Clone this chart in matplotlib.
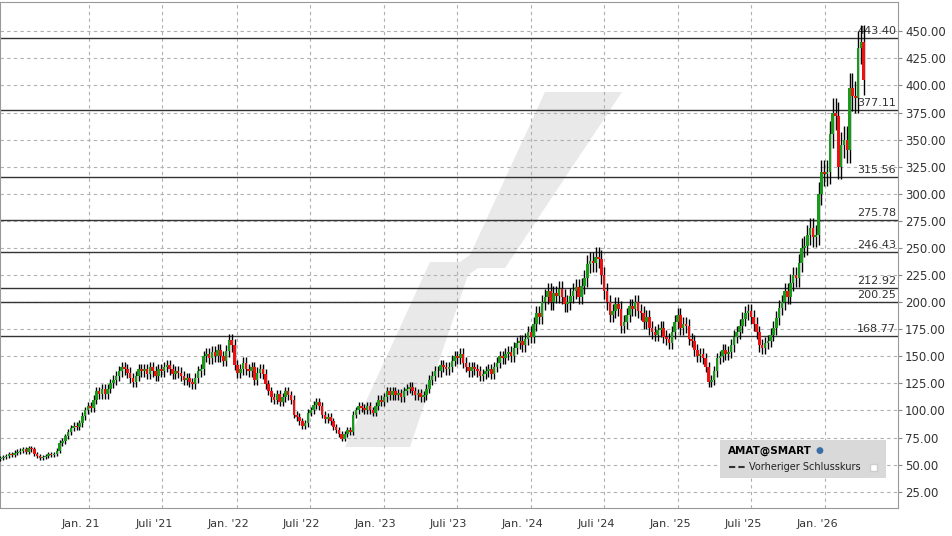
import matplotlib
matplotlib.use("Agg")
import matplotlib.pyplot as plt
import numpy as np
import pandas as pd
from matplotlib.patches import Polygon, Rectangle
from matplotlib.lines import Line2D

closes = [56,57,58, 60,59,61,62, 63,64,62,65,64, 60,58,56,57, 58,60,59,60, 63,70,72,76,80, 84,86,85,88,
 95,100,104,102, 110,118,115,120, 115,120,125,128,132, 136,140,138,135, 130,126,132,138,136, 138,134,140,136,
 132,138,136,140, 142,138,134,136,135, 132,128,130,126, 124,130,136,138, 150,152,148,154,150, 156,150,146,155,
 165,160,142,135,138, 144,138,136,140, 128,135,138,134, 124,118,112,110, 115,108,112,118,114, 110,96,94,90,
 86,88,98,100, 105,108,104,96,92, 94,90,85,82, 78,74,78,82,80, 96,100,104,102, 100,104,100,98,
 104,110,108,112,118, 114,118,114,116, 112,118,120,122, 118,114,116,112, 114,120,128,132,136, 136,142,140,138,
 140,146,150,148,152, 144,140,136,140, 138,136,132,134, 136,138,134,140,144, 150,148,152,154, 150,158,162,164,
 160,166,172,168,180, 190,186,200,205, 210,200,208,206, 212,205,198,200,206, 210,214,205,215, 222,235,238,236,
 242,240,225,210,200, 188,192,198,194, 178,182,188,196,194, 200,192,190,182, 186,176,172,170, 174,176,168,166,162,
 172,182,188,176, 180,178,166,164, 156,150,152,148,140, 126,128,136,148, 150,156,152,154, 160,168,172,178,184,
 190,192,186,180, 172,160,158,162, 164,170,176,185,195, 200,210,205,218,
 225,222,236,250,252, 262,268,260,262, 300,320,318,320, 355,375,372,325, 345,350,340,398, 390,388,435,440,405]
first_open = 55
levels = [443.40, 377.11, 315.56, 275.78, 246.43, 212.92, 200.25, 168.77]
yticks = list(range(25, 451, 25))
xtick_dates = ["2021-01-01","2021-07-01","2022-01-01","2022-07-01","2023-01-01","2023-07-01",
               "2024-01-01","2024-07-01","2025-01-01","2025-07-01","2026-01-01"]
xtick_labels = ["Jan. 21","Juli '21","Jan. '22","Juli '22","Jan. '23","Juli '23",
                "Jan. '24","Juli '24","Jan. '25","Juli '25","Jan. '26"]

dates = pd.date_range("2020-05-25", periods=len(closes), freq="7D")
x = dates.map(lambda d: d.toordinal()).values.astype(float)
opens = [first_open] + closes[:-1]

fig = plt.figure(figsize=(9.53, 5.36), dpi=100)
ax = fig.add_axes([0.0, 28/536, 898/953, 506/536])
x0 = pd.Timestamp("2020-05-24").toordinal()
x1 = pd.Timestamp("2026-06-30").toordinal()
ax.set_xlim(x0, x1)
ax.set_ylim(10, 477)

W, H = 898, 506
def P(px, py):
    return (px / W, 1 - (py - 2) / H)
pts = [P(345,447),P(410,447),P(468,275),P(478,268),P(505,268),P(622,92),P(545,92),P(470,255),P(460,262),P(430,262)]
ax.add_patch(Polygon(pts, closed=True, transform=ax.transAxes, facecolor="#e9e9e9", edgecolor="none", zorder=0))

ax.grid(True, color="#b0b0b0", linestyle=(0,(3,3)), linewidth=0.8)
ax.set_axisbelow(True)

for lv in levels:
    ax.axhline(lv, color="#333333", linewidth=1.0, zorder=2)
    ax.text(0.998, lv + 2, f"{lv:.2f}", transform=ax.get_yaxis_transform(), ha="right", va="bottom",
            fontsize=8, color="#333333", zorder=3)

w = 3.2
for xi, o, c in zip(x, opens, closes):
    hi = max(o, c) * 1.035
    lo = min(o, c) * 0.965
    ax.vlines(xi, lo, hi, color="black", linewidth=1.0, zorder=3)
    col = "#1a9a1a" if c >= o else "#ee1111"
    bot = min(o, c); h = max(abs(c - o), 0.8)
    ax.add_patch(Rectangle((xi - w, bot), 2 * w, h, facecolor=col, edgecolor="none", zorder=4))

ax.yaxis.tick_right()
ax.set_yticks(yticks)
ax.set_yticklabels([f"{v:.2f}" for v in yticks], fontsize=8.5, color="#333333")
tick_x = [pd.Timestamp(d).toordinal() for d in xtick_dates]
ax.set_xticks(tick_x)
ax.set_xticklabels([])
ax.tick_params(axis="x", length=0)
ax.tick_params(axis="y", length=3, pad=2, color="#888888")
for tx, lab in zip(tick_x, xtick_labels):
    ax.annotate(lab, (tx, 0), xycoords=("data", "axes fraction"), xytext=(-6, -8),
                textcoords="offset points", ha="center", va="top", fontsize=8, color="#333333")
for s in ax.spines.values():
    s.set_color("#999999")

lx0, ly0 = 720/953, 1 - 478/536
fig.patches.append(Rectangle((lx0, ly0), 166/953, 38/536, transform=fig.transFigure,
                             facecolor="#d9d9d9", edgecolor="none", zorder=10))
fig.text(728/953, 1 - 451/536, "AMAT@SMART", fontsize=7.5, fontweight="bold", va="center", zorder=11)
fig.text(816/953, 1 - 451/536, "●", fontsize=6.5, color="#3a6ea5", va="center", zorder=11)
ln = Line2D([729/953, 745/953], [1 - 467/536]*2, color="#333333", linestyle=(0,(3,1.5)), linewidth=1.5,
            transform=fig.transFigure, zorder=12)
fig.lines.append(ln)
fig.text(749/953, 1 - 467/536, "Vorheriger Schlusskurs", fontsize=7, va="center", zorder=11, color="#222222")
fig.patches.append(Rectangle((870/953, 1 - 471/536), 7/953, 7/536, transform=fig.transFigure,
                             facecolor="white", edgecolor="#cccccc", zorder=11))

fig.savefig("out.png", dpi=100)
